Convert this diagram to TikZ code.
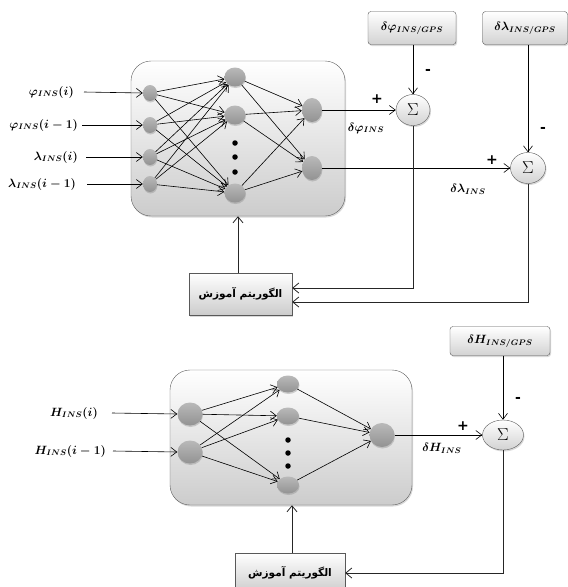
\documentclass[tikz,border=0pt]{standalone}
\usepackage{fontspec}
\newfontfamily\arabicfont[Script=Arabic]{DejaVu Sans}
\newfontfamily\pmfont{DejaVu Sans}
\TeXXeTstate=1
\usetikzlibrary{arrows.meta,shadows,shapes.geometric}
\begin{document}
\begin{tikzpicture}[x=1pt,y=-1pt,
  shad/.style={drop shadow={shadow xshift=1pt,shadow yshift=-1.5pt,opacity=0.3}},
  netbox/.style={draw=gray!75!black, rounded corners=20pt, top color=white, bottom color=gray!40, shad, inner sep=0pt},
  neuron/.style={ellipse, inner sep=0pt, top color=gray!55, bottom color=gray!85, draw=none, drop shadow={shadow xshift=0.5pt,shadow yshift=-1.5pt,opacity=0.35}},
  refbox/.style={draw=gray!70!black, rounded corners=3pt, top color=white, bottom color=gray!35, shad, inner sep=0pt},
  sumnode/.style={ellipse, draw=gray!70!black, top color=white, bottom color=gray!35, inner sep=0pt, shad},
  trainbox/.style={draw=gray!70!black, top color=white, bottom color=gray!40, shad, inner sep=0pt},
  arr/.style={-{Straight Barb[length=6pt,width=10pt]}, thick, draw=gray!30!black},
  conn/.style={-{Straight Barb[length=6pt,width=9pt]}, semithick, draw=black},
  dotc/.style={circle, fill=black, inner sep=0pt, minimum size=5.5pt},
  lab/.style={font=\fontsize{12}{14}\selectfont\boldmath, inner sep=2pt},
  sig/.style={font=\fontsize{17}{19}\selectfont},
  pm/.style={font=\pmfont\bfseries\fontsize{14}{16}\selectfont},
  ar/.style={font=\arabicfont\bfseries\fontsize{10.5}{12}\selectfont}]
\useasboundingbox (0,0) rectangle (568,587);

% ---------------- top network ----------------
\node[netbox, minimum width=214pt, minimum height=155pt] (net1) at (238,138.5) {};
\node[neuron, minimum width=14pt, minimum height=16pt] (i1) at (150,93) {};
\node[neuron, minimum width=14pt, minimum height=16pt] (i2) at (150,125) {};
\node[neuron, minimum width=14pt, minimum height=16pt] (i3) at (150,157) {};
\node[neuron, minimum width=14pt, minimum height=16pt] (i4) at (150,184) {};
\node[neuron, minimum width=21pt, minimum height=19pt] (h1) at (235,77) {};
\node[neuron, minimum width=21pt, minimum height=19pt] (h2) at (235,115) {};
\node[neuron, minimum width=21pt, minimum height=19pt] (h3) at (235,193) {};
\node[dotc] (d1) at (235,143) {};
\node[dotc] (d2) at (235,157) {};
\node[dotc] (d3) at (235,172) {};
\node[neuron, minimum width=20pt, minimum height=24pt] (o1) at (312,110) {};
\node[neuron, minimum width=20pt, minimum height=24pt] (o2) at (312,168) {};
\foreach \a in {i1,i2,i3,i4}{\foreach \b in {h1,h2,h3}{\draw[conn] (\a) -- (\b);}}
\foreach \a in {h1,h2,h3}{\foreach \b in {o1,o2}{\draw[conn] (\a) -- (\b);}}

\node[lab, anchor=east] (l1) at (76,92) {$\varphi_{INS}(i)$};
\node[lab, anchor=east] (l2) at (80,125) {$\varphi_{INS}(i-1)$};
\node[lab, anchor=east] (l3) at (80,157) {$\lambda_{INS}(i)$};
\node[lab, anchor=east] (l4) at (78,184) {$\lambda_{INS}(i-1)$};
\draw[conn] (l1.east) ++(8,0) -- (i1.west);
\draw[conn] (l2.east) ++(2,0) -- (i2.west);
\draw[conn] (l3.east) ++(6,0) -- (i3.west);
\draw[conn] (l4.east) ++(9,0) -- (i4.west);

\node[refbox, minimum width=88pt, minimum height=33pt, lab] (r1) at (412,28) {$\delta\varphi_{INS/GPS}$};
\node[refbox, minimum width=85pt, minimum height=33pt, lab] (r2) at (525,28) {$\delta\lambda_{INS/GPS}$};
\node[sumnode, sig, minimum width=34pt, minimum height=31pt] (s1) at (413,110) {$\Sigma$};
\node[sumnode, sig, minimum width=35pt, minimum height=31pt] (s2) at (528,168) {$\Sigma$};
\draw[conn] (r1.south -| s1) -- (s1.north);
\draw[conn] (r2.south -| s2) -- (s2.north);
\draw[conn] (o1.east) -- (s1.west);
\draw[conn] (o2.east) -- (s2.west);
\node[pm] (p1) at (377,99) {+};
\node[pm] (m1) at (428,72) {-};
\node[pm] (p2) at (492,160) {+};
\node[pm] (m2) at (543,130) {-};
\node[lab] (e1) at (366,128) {$\delta\varphi_{INS}$};
\node[lab] (e2) at (468,189) {$\delta\lambda_{INS}$};

\node[trainbox, ar, minimum width=103pt, minimum height=42pt] (t1) at (240.5,294) {\beginR الگوریتم آموزش\endR};
\draw[arr] (t1.north -| net1) -- (net1.south);
\draw[arr] (s1.south) |- ([yshift=6pt]t1.east);
\draw[arr] (s2.south) |- ([yshift=-8pt]t1.east);

% ---------------- bottom network ----------------
\node[netbox, minimum width=242pt, minimum height=135pt] (net2) at (291,437.5) {};
\node[neuron, minimum width=25pt, minimum height=23pt] (bi1) at (190,414) {};
\node[neuron, minimum width=25pt, minimum height=23pt] (bi2) at (190,452) {};
\node[neuron, minimum width=22pt, minimum height=17pt] (bh1) at (288,384) {};
\node[neuron, minimum width=22pt, minimum height=17pt] (bh2) at (288,416) {};
\node[neuron, minimum width=22pt, minimum height=17pt] (bh3) at (288,485) {};
\node[dotc] (bd1) at (288,440) {};
\node[dotc] (bd2) at (288,453) {};
\node[dotc] (bd3) at (288,466) {};
\node[neuron, minimum width=25pt, minimum height=24pt] (bo) at (382,435) {};
\foreach \a in {bi1,bi2}{\foreach \b in {bh1,bh2,bh3}{\draw[conn] (\a) -- (\b);}}
\foreach \a in {bh1,bh2,bh3}{\draw[conn] (\a) -- (bo);}

\node[lab, anchor=east] (bl1) at (100,413) {$H_{INS}(i)$};
\node[lab, anchor=east] (bl2) at (108,451) {$H_{INS}(i-1)$};
\draw[conn] (bl1.east) ++(12,0) -- (bi1.west);
\draw[conn] (bl2.east) ++(5,0) -- (bi2.west);

\node[refbox, minimum width=100pt, minimum height=29pt, lab] (r3) at (500,341) {$\delta H_{INS/GPS}$};
\node[sumnode, sig, minimum width=41pt, minimum height=30pt] (s3) at (503,435) {$\Sigma$};
\draw[conn] (r3.south -| s3) -- (s3.north);
\draw[conn] (bo.east) -- (s3.west);
\node[pm] (p3) at (463,426) {+};
\node[pm] (m3) at (518,400) {-};
\node[lab] (e3) at (442,448) {$\delta H_{INS}$};

\node[trainbox, ar, minimum width=110pt, minimum height=40pt] (t2) at (290,573) {\beginR الگوریتم آموزش\endR};
\draw[arr] ([xshift=2pt]t2.north) -- ([xshift=2pt]t2.north |- net2.south);
\draw[arr] (s3.south) |- (t2.east);
\end{tikzpicture}
\end{document}
